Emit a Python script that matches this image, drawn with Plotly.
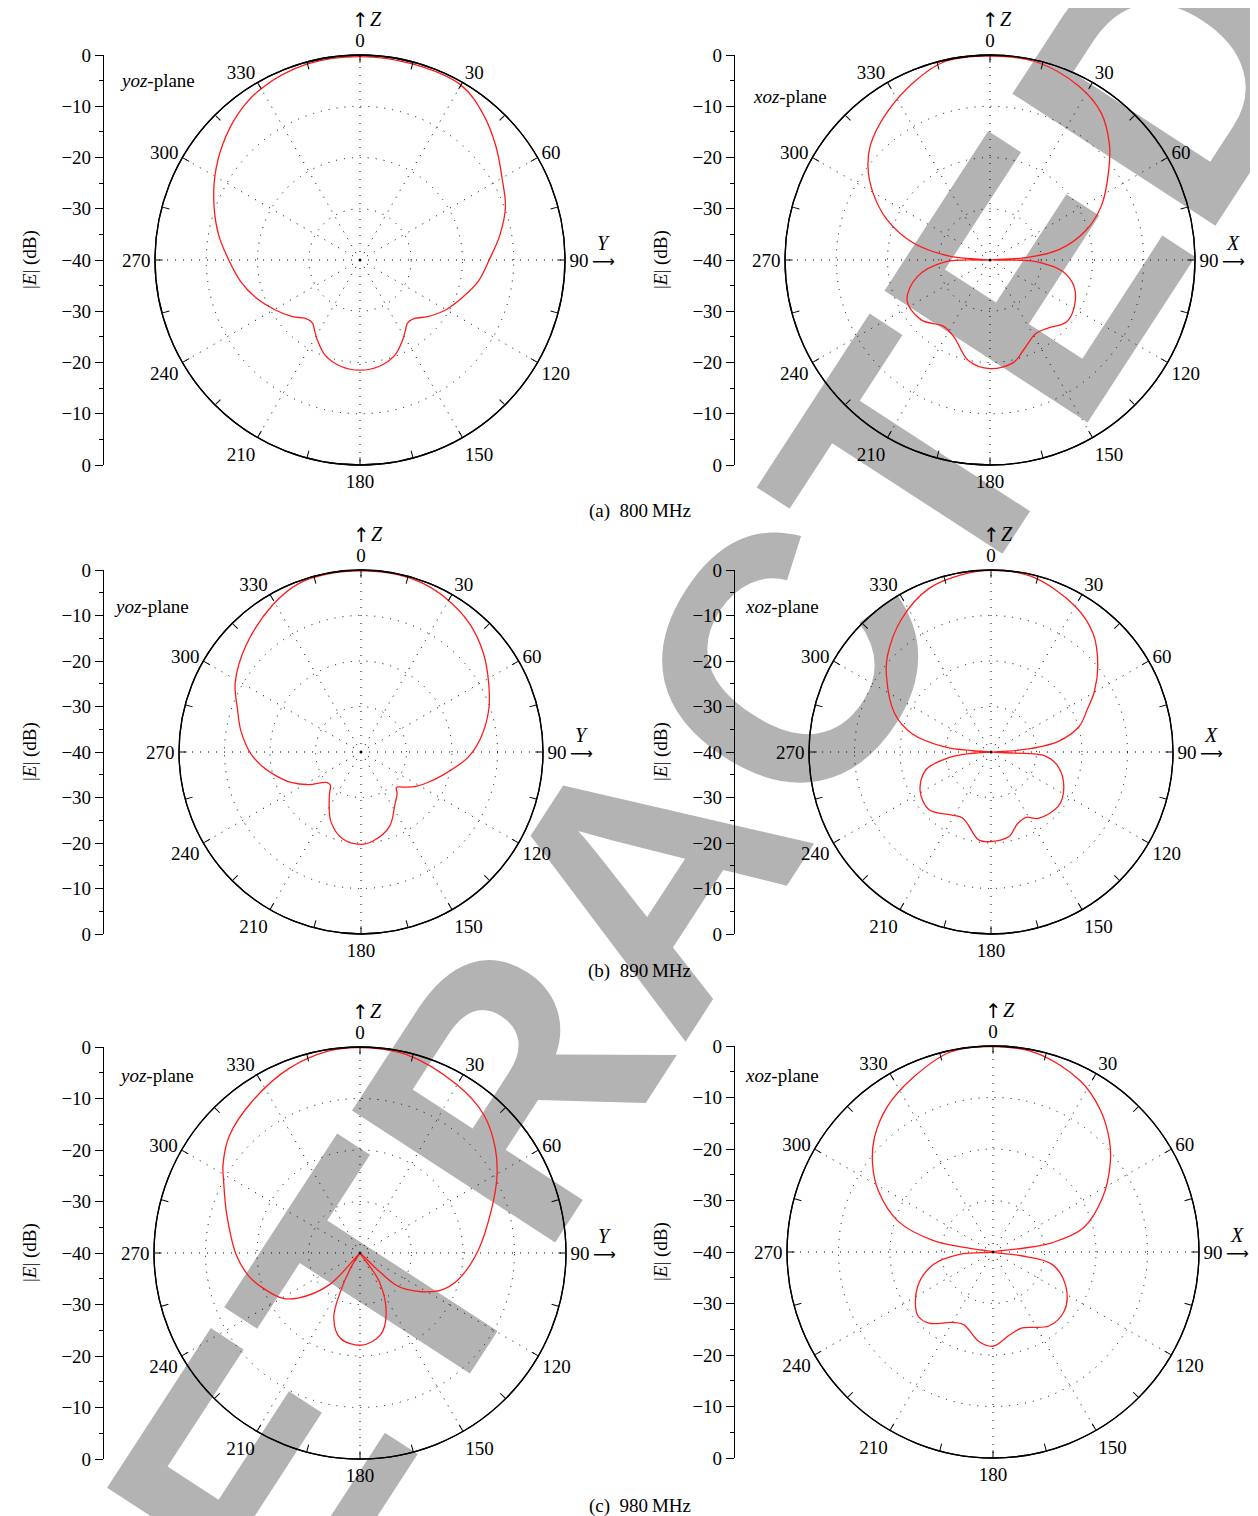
import plotly.graph_objects as go

W, H = 1258, 1516

# ---------------- data (angle in degrees, clockwise from +Z; |E| in dB) ----------------
THETA_800_YOZ = [0, 15, 30, 40, 50, 60, 70, 80, 90, 100, 110, 120, 130, 137, 143, 147, 152, 160, 170, 180,
                 190, 200, 208, 213, 217, 223, 230, 240, 250, 260, 270, 280, 290, 300, 310, 320, 330, 345, 360]
R_800_YOZ = [-0.3, -0.4, -0.6, -2.7, -5.4, -8.0, -9.8, -12.3, -14.8, -16.5, -18.7, -20.6, -22.8, -24.4, -24.6,
             -23.7, -22.3, -20.2, -18.9, -18.5, -18.9, -20.2, -22.3, -23.7, -24.6, -24.4, -22.8, -20.7, -18.4,
             -16.3, -14.4, -12.0, -9.7, -7.3, -5.0, -2.9, -1.4, -0.4, -0.3]

THETA_800_XOZ = [0, 13, 27, 37, 46, 53, 64, 73, 81.5, 86, 90, 90.5, 92, 99, 108, 120, 129, 140, 148, 159, 167,
                 180, 192, 205, 215, 229, 244, 257, 268, 270, 275, 282.5, 291.6, 300, 307, 314, 325, 337, 347, 360]
R_800_XOZ = [-0.2, -0.3, -1.9, -4.0, -7.6, -11.0, -15.8, -20.5, -26.4, -32.5, -40, -34.0, -31.0, -25.6, -22.7,
             -21.1, -20.8, -22.6, -23.1, -21.4, -19.5, -18.8, -19.9, -23.4, -24.2, -22.2, -22.0, -25.4, -31.4,
             -40, -32.5, -24.7, -18.3, -13.6, -10.2, -7.6, -4.9, -2.2, -0.3, -0.2]

THETA_890_YOZ = [0, 12, 20, 29, 40, 51, 62, 72, 84, 93, 106, 115, 123, 130, 135, 139, 147, 159, 172, 180, 192,
                 203, 210, 217, 223, 229, 238, 246, 255, 262, 269, 280, 289, 299, 313, 329, 340, 350, 360]
R_890_YOZ = [-0.2, -0.2, -0.5, -1.4, -3.0, -5.4, -8.2, -10.5, -13.7, -16.5, -21.4, -24.0, -26.0, -28.0, -29.0,
             -27.9, -26.3, -22.5, -20.3, -19.7, -20.5, -23.2, -26.0, -28.5, -30.1, -29.8, -26.5, -23.4, -20.4,
             -18.0, -15.8, -13.2, -11.3, -8.4, -5.5, -2.3, -0.5, -0.2, -0.2]

THETA_890_XOZ = [0, 13, 30, 41, 51, 59.5, 66, 74, 81, 85, 87, 90, 92.7, 94, 102.6, 116, 128.6, 144.6, 151.7,
                 159.7, 168, 180, 188, 203, 212.5, 227, 241, 254.6, 262.5, 266, 270, 274, 276, 283, 292, 306,
                 313, 326, 339, 351, 360]
R_890_XOZ = [-0.1, -0.4, -3.0, -5.7, -9.8, -13.6, -16.8, -19.9, -25.0, -31.1, -35.6, -40, -34.9, -28.1, -24.8,
             -22.2, -21.0, -22.1, -23.7, -23.2, -21.0, -20.3, -20.5, -24.2, -23.6, -21.4, -22.2, -25.1, -30.8,
             -36.0, -40, -36.0, -30.0, -22.2, -17.1, -11.6, -8.9, -4.8, -1.6, -0.5, -0.1]

THETA_980_YOZ = [0, 13, 30, 42, 52, 61, 72, 89, 106, 115, 122, 128, 132, 134, 137, 146, 157, 166, 179, 193, 202,
                 207, 213, 218, 224, 234, 240, 248, 258, 269, 286, 298, 303, 312, 325, 339, 351, 360]
R_980_YOZ = [-0.1, -0.4, -2.3, -4.0, -6.7, -9.6, -13.2, -17.1, -20.4, -22.8, -25.8, -28.5, -30.8, -35.8, -40,
             -33.3, -27.0, -23.6, -22.1, -23.0, -26.4, -31.7, -37.3, -40, -31.4, -25.1, -22.5, -20.5, -18.0,
             -16.0, -13.1, -10.0, -8.3, -5.9, -3.8, -1.6, -0.3, -0.1]

THETA_980_XOZ = [0, 12.5, 27, 37, 46, 53, 63.5, 75, 81, 83, 90, 97.6, 102, 116, 130, 143, 159, 168.5, 180, 189,
                 202, 210, 222, 230, 245, 258, 266, 270, 279, 281, 288, 298, 306, 314, 324, 335.6, 348, 360]
R_980_XOZ = [-0.1, -0.5, -2.7, -5.4, -8.6, -11.5, -16.2, -21.8, -28.3, -34.4, -40, -34.5, -28.2, -24.2, -22.0,
             -22.0, -24.2, -23.6, -21.7, -22.4, -24.8, -24.2, -21.4, -20.9, -23.8, -28.1, -33.5, -40, -35.7,
             -28.1, -20.6, -14.8, -11.1, -8.0, -5.1, -2.7, -0.3, -0.1]

# ---------------- tick labels ----------------
ANG_MAJOR = list(range(0, 360, 30))
ANG_LABELS = ["0", "30", "60", "90", "120", "150", "180", "210", "240", "270", "300", "330"]
ANG_MINOR = list(range(0, 360, 15))
DB_VALS = [0, 10, 20, 30, 40, 50, 60, 70, 80]
DB_TEXT = ["0", "−10", "−20", "−30", "−40", "−30", "−20", "−10", "0"]
RING_VALS = [-30, -20, -10]
CAPTIONS = ["(a)\u2002800\u2009MHz", "(b)\u2002890\u2009MHz", "(c)\u2002980\u2009MHz"]

SERIF = "Liberation Serif"
SYM = "DejaVu Sans"
RED = "#ff1a1a"
DOT = "1px,7px"
FS = 19

# ---------------- panel layout (pixel geometry) ----------------
panels = [
    dict(cx=352, cy=252, R=205, ax=96, th=THETA_800_YOZ, r=R_800_YOZ, plane="yoz", arr="Y", lab=(110, 73)),
    dict(cx=982, cy=252, R=205, ax=727, th=THETA_800_XOZ, r=R_800_XOZ, plane="xoz", arr="X", lab=(743, 88)),
    dict(cx=353, cy=744, R=182, ax=96, th=THETA_890_YOZ, r=R_890_YOZ, plane="yoz", arr="Y", lab=(104, 599)),
    dict(cx=983, cy=744, R=182, ax=727, th=THETA_890_XOZ, r=R_890_XOZ, plane="xoz", arr="X", lab=(735, 598)),
    dict(cx=352, cy=1245, R=206, ax=96, th=THETA_980_YOZ, r=R_980_YOZ, plane="yoz", arr="Y", lab=(109, 1067)),
    dict(cx=985, cy=1244, R=206, ax=727, th=THETA_980_XOZ, r=R_980_XOZ, plane="xoz", arr="X", lab=(735, 1067)),
]
caption_y = [503, 963, 1498]


def fx(x):
    return x / W


def fy(y):
    return 1 - y / H


def note(x, y, text, size=FS, family=SERIF, xanchor="center", angle=0):
    return dict(x=fx(x), y=fy(y), xref="paper", yref="paper", text=text, showarrow=False,
                xanchor=xanchor, yanchor="middle", textangle=angle,
                font=dict(family=family, size=size, color="black"))


fig = go.Figure()
layout = dict(
    width=W, height=H, template="none",
    margin=dict(l=0, r=0, t=0, b=0, pad=0),
    paper_bgcolor="white", plot_bgcolor="rgba(0,0,0,0)",
    font=dict(family=SERIF, size=FS, color="black"),
    showlegend=False,
)
annotations = []
n = len(panels)

for i, p in enumerate(panels):
    gid = i + 1
    tid = i + 1 + n
    gname = "polar" if gid == 1 else f"polar{gid}"
    tname = f"polar{tid}"
    dom = dict(x=[fx(p["cx"] - p["R"]), fx(p["cx"] + p["R"])],
               y=[fy(p["cy"] + p["R"]), fy(p["cy"] - p["R"])])
    # grid + labels polar
    layout[gname] = dict(
        domain=dom, bgcolor="rgba(0,0,0,0)",
        radialaxis=dict(range=[-40, 0], tickmode="array", tickvals=RING_VALS, showticklabels=False,
                        ticks="", showline=False, gridcolor="black", griddash=DOT, gridwidth=1),
        angularaxis=dict(direction="clockwise", rotation=90, tickmode="array", tickvals=ANG_MAJOR,
                         ticktext=ANG_LABELS, ticks="", showline=True, linecolor="black", linewidth=1.3,
                         gridcolor="black", griddash=DOT, gridwidth=1,
                         tickfont=dict(family=SERIF, size=FS, color="black")),
    )
    # tick-mark polar (15 degree ticks on outer circle)
    layout[tname] = dict(
        domain=dom, bgcolor="rgba(0,0,0,0)",
        radialaxis=dict(range=[-40, 0], visible=False),
        angularaxis=dict(direction="clockwise", rotation=90, tickmode="array", tickvals=ANG_MINOR,
                         showticklabels=False, ticks="inside", ticklen=7, tickwidth=1.2, tickcolor="black",
                         showgrid=False, showline=True, linecolor="black", linewidth=1.3),
    )
    fig.add_trace(go.Scatterpolar(r=p["r"], theta=p["th"], mode="lines", subplot=gname,
                                  line=dict(color=RED, width=1.3, shape="spline", smoothing=1),
                                  hoverinfo="skip"))
    fig.add_trace(go.Scatterpolar(r=[-40], theta=[0], mode="markers", subplot=tname,
                                  marker=dict(color="black", size=3), hoverinfo="skip"))

    # left |E| (dB) axis
    xa = "xaxis" if gid == 1 else f"xaxis{gid}"
    ya = "yaxis" if gid == 1 else f"yaxis{gid}"
    xs = "x" if gid == 1 else f"x{gid}"
    ys = "y" if gid == 1 else f"y{gid}"
    layout[xa] = dict(domain=[fx(p["ax"]), fx(p["ax"] + 1)], anchor=ys, visible=False, range=[0, 1],
                      fixedrange=True)
    layout[ya] = dict(domain=dom["y"], anchor=xs, range=[0, 80], tickmode="array", tickvals=DB_VALS,
                      ticktext=DB_TEXT, ticks="outside", ticklen=8, tickwidth=1, tickcolor="black",
                      showline=True, linecolor="black", linewidth=1.2, showgrid=False, zeroline=False,
                      fixedrange=True, tickfont=dict(family=SERIF, size=FS, color="black"),
                      minor=dict(dtick=5, tick0=0, ticks="outside", ticklen=4, tickcolor="black",
                                 showgrid=False))
    fig.add_trace(go.Scatter(x=[None], y=[None], xaxis=xs, yaxis=ys, mode="markers",
                             hoverinfo="skip", showlegend=False))

    # axis title
    annotations.append(note(p["ax"] - 74, p["cy"], "|<i>E</i>| (dB)", angle=-90))
    # plane label
    annotations.append(note(p["lab"][0], p["lab"][1], f"<i>{p['plane']}</i>-plane", xanchor="left"))
    # Z arrow on top
    top = p["cy"] - p["R"]
    annotations.append(note(p["cx"], top - 35, "↑", size=20, family=SYM))
    annotations.append(note(p["cx"] + 16, top - 36, "<i>Z</i>", size=20))
    # arrow + Y / X on the right
    right = p["cx"] + p["R"]
    annotations.append(note(right + 38, p["cy"] + 1, "⟶", size=16, family=SYM))
    annotations.append(note(right + 38, p["cy"] - 17, f"<i>{p['arr']}</i>", size=20))

for cap, cyp in zip(CAPTIONS, caption_y):
    annotations.append(note(632, cyp, cap))

layout["annotations"] = annotations

# watermark (drawn below the plots)
cxw, cyw = 612, 850
ang = 57.0
dxw, dyw = 0.545 * 100, -0.839 * 100
layout["shapes"] = [dict(
    type="line", xref="paper", yref="paper", layer="below",
    x0=fx(cxw - dxw), y0=fy(cyw - dyw), x1=fx(cxw + dxw), y1=fy(cyw + dyw),
    line=dict(color="rgba(0,0,0,0)", width=0),
    label=dict(text="RETRACTED", textposition="middle", textangle=-ang, xanchor="center",
               yanchor="middle",
               font=dict(family="Liberation Sans", size=352, color="#b3b3b3", weight="bold")),
)]

fig.update_layout(**layout)
fig.write_html("out.html")
